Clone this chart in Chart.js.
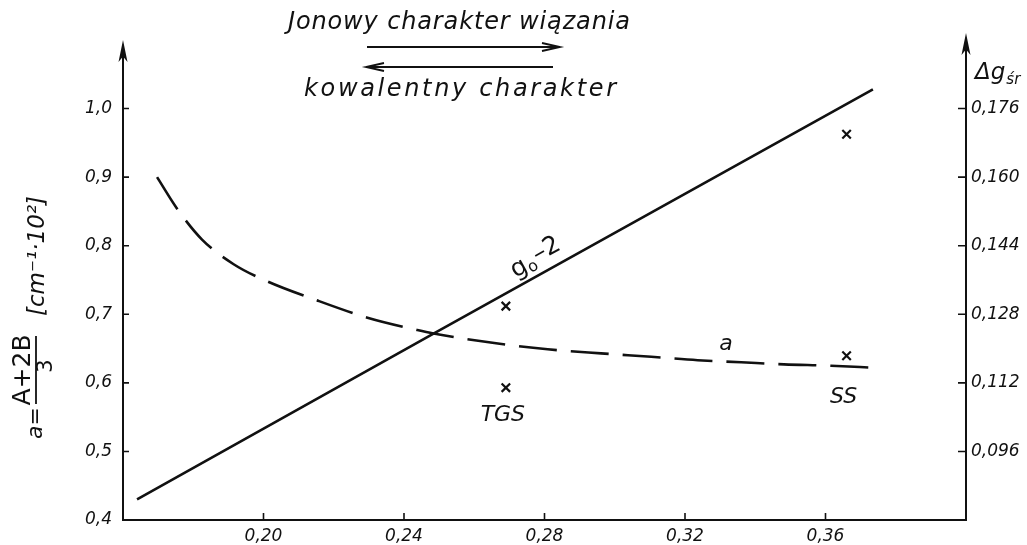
<!DOCTYPE html>
<html>
<head>
<meta charset="utf-8">
<script src="https://cdn.jsdelivr.net/npm/chart.js@4.4.1/dist/chart.umd.min.js"></script>
<style>
    html, body { margin: 0; padding: 0; background: #fff; }
    #wrap { position: relative; width: 1027px; height: 545px; }
</style>
</head>
<body>
<div id="wrap"><canvas id="chart"></canvas></div>
<script>
// g0-2 straight line, read against the right axis (Δg śr)
const g0X = [0.164, 0.2484, 0.3735];
const g0Y = [0.0848, 0.1235, 0.1805];

// a = (A+2B)/3 curve, read against the left axis
const aX = [0.1697, 0.1754, 0.1825, 0.1915, 0.2011, 0.2143, 0.2296, 0.2438, 0.2484,
            0.2657, 0.2809, 0.2961, 0.3104, 0.3236, 0.3360, 0.3482, 0.3616, 0.3739];
const aY = [0.900, 0.854, 0.809, 0.773, 0.748, 0.722, 0.695, 0.677, 0.672,
            0.658, 0.649, 0.643, 0.638, 0.633, 0.630, 0.627, 0.625, 0.622];

// measured samples
const sampleNames = ['TGS', 'SS'];
const sampleX = [0.269, 0.366];
const sampleA = [0.593, 0.6395];
const sampleDg = [0.1299, 0.170];

// tick values
const xTicks = [0.20, 0.24, 0.28, 0.32, 0.36];
const aTicks = [0.4, 0.5, 0.6, 0.7, 0.8, 0.9, 1.0];
const dgTicks = [0.096, 0.112, 0.128, 0.144, 0.160, 0.176];

const INK = '#111';
const FACE = '"DejaVu Sans", sans-serif';

const fmt = (v, d) => v.toFixed(d).replace('.', ',');

function fitText(ctx, text, cx, cy, width) {
    ctx.letterSpacing = '0px';
    const w = ctx.measureText(text).width;
    ctx.letterSpacing = ((width - w) / (text.length - 1)) + 'px';
    ctx.textAlign = 'left';
    ctx.fillText(text, cx - width / 2, cy);
    ctx.letterSpacing = '0px';
}

function rotText(ctx, text, cx, cy, font) {
    ctx.save();
    ctx.translate(cx, cy);
    ctx.rotate(-Math.PI / 2);
    ctx.font = font;
    ctx.textAlign = 'center';
    ctx.textBaseline = 'middle';
    ctx.fillText(text, 0, 0);
    ctx.restore();
}

function arrowHead(ctx, tipX, tipY, dirX, dirY, len, half) {
    const bx = tipX - dirX * len, by = tipY - dirY * len;
    const px = -dirY * half, py = dirX * half;
    ctx.beginPath();
    ctx.moveTo(tipX, tipY);
    ctx.lineTo(bx + px, by + py);
    ctx.lineTo(tipX - dirX * len * 0.75, tipY - dirY * len * 0.75);
    ctx.lineTo(bx - px, by - py);
    ctx.closePath();
    ctx.fill();
}

function openArrow(ctx, x1, x2, y) {
    ctx.beginPath();
    ctx.moveTo(x1, y);
    ctx.lineTo(x2, y);
    const d = Math.sign(x2 - x1);
    ctx.moveTo(x2 - d * 18, y - 4);
    ctx.lineTo(x2, y);
    ctx.lineTo(x2 - d * 18, y + 4);
    ctx.stroke();
}

// axes with inward ticks, arrows and all the lettering
const drafting = {
    id: 'drafting',
    afterDraw(chart) {
        const ctx = chart.ctx;
        const { left, right, top, bottom } = chart.chartArea;
        const sx = chart.scales.x, sy = chart.scales.y, sy2 = chart.scales.y2;

        ctx.save();
        ctx.strokeStyle = INK;
        ctx.fillStyle = INK;
        ctx.lineWidth = 2;
        ctx.lineCap = 'butt';

        // axis lines
        ctx.beginPath();
        ctx.moveTo(left, bottom + 1);
        ctx.lineTo(left, top + 8);
        ctx.moveTo(left - 1, bottom);
        ctx.lineTo(right + 1, bottom);
        ctx.moveTo(right, bottom + 1);
        ctx.lineTo(right, top + 1);
        ctx.stroke();
        arrowHead(ctx, left, top, 0, -1, 22, 4.5);
        arrowHead(ctx, right, top - 7, 0, -1, 22, 4.5);

        // inward tick marks
        ctx.lineWidth = 1.6;
        ctx.beginPath();
        xTicks.forEach(v => {
            const px = sx.getPixelForValue(v);
            ctx.moveTo(px, bottom);
            ctx.lineTo(px, bottom - 7);
        });
        aTicks.slice(1).forEach(v => {
            const py = sy.getPixelForValue(v);
            ctx.moveTo(left, py);
            ctx.lineTo(left + 6, py);
        });
        dgTicks.forEach(v => {
            const py = sy2.getPixelForValue(v);
            ctx.moveTo(right, py);
            ctx.lineTo(right - 8, py);
        });
        ctx.stroke();

        // header: bond character arrows
        ctx.font = 'italic 24px ' + FACE;
        ctx.textBaseline = 'alphabetic';
        fitText(ctx, 'Jonowy charakter wiązania', 459, 29, 342);
        fitText(ctx, 'kowalentny charakter', 460, 96, 312);
        ctx.lineWidth = 1.8;
        openArrow(ctx, 367, 560, 47);
        openArrow(ctx, 553, 366, 67);

        // left axis title
        rotText(ctx, 'a=', 36, 423, 'italic 22px ' + FACE);
        rotText(ctx, 'A+2B', 23, 370, '25px ' + FACE);
        rotText(ctx, '3', 47, 366, '21px ' + FACE);
        rotText(ctx, '[cm⁻¹·10²]', 38, 256, 'italic 23px ' + FACE);
        ctx.lineWidth = 1.8;
        ctx.beginPath();
        ctx.moveTo(36, 336);
        ctx.lineTo(36, 404);
        ctx.stroke();

        // right axis title
        ctx.textAlign = 'left';
        ctx.font = 'italic 23px ' + FACE;
        ctx.fillText('Δg', 975, 79);
        const dw = ctx.measureText('Δg').width;
        ctx.font = 'italic 15px ' + FACE;
        ctx.fillText('śr', 975 + dw + 1, 84);

        // g0-2 label along its line
        const p1x = sx.getPixelForValue(g0X[0]), p1y = sy2.getPixelForValue(g0Y[0]);
        const p2x = sx.getPixelForValue(g0X[g0X.length - 1]), p2y = sy2.getPixelForValue(g0Y[g0Y.length - 1]);
        const ang = Math.atan2(p2y - p1y, p2x - p1x);
        const lx = 520;
        const ly = p1y + (lx - p1x) * (p2y - p1y) / (p2x - p1x);
        ctx.save();
        ctx.translate(lx, ly);
        ctx.rotate(ang);
        ctx.textAlign = 'left';
        ctx.font = '25px ' + FACE;
        ctx.fillText('g', 0, -9);
        let off = ctx.measureText('g').width;
        ctx.font = '16px ' + FACE;
        ctx.fillText('o', off, -6);
        off += ctx.measureText('o').width + 1;
        ctx.font = '25px ' + FACE;
        ctx.fillText('–2', off, -12);
        ctx.restore();

        // curve label and sample names
        ctx.font = 'italic 22px ' + FACE;
        ctx.textAlign = 'center';
        ctx.textBaseline = 'middle';
        ctx.fillText('a', sx.getPixelForValue(0.3317), sy.getPixelForValue(0.656));
        const dropBelow = [28, 42];
        sampleNames.forEach((name, i) => {
            ctx.fillText(name, sx.getPixelForValue(sampleX[i]) - 3,
                sy.getPixelForValue(sampleA[i]) + dropBelow[i]);
        });

        ctx.restore();
    }
};

const tickFont = { family: FACE, size: 17, style: 'italic' };
const noGrid = { display: false, drawTicks: false };

new Chart(document.getElementById('chart'), {
    type: 'line',
    data: {
        datasets: [
            {
                label: 'g0-2',
                data: g0X.map((x, i) => ({ x, y: g0Y[i] })),
                yAxisID: 'y2',
                borderColor: INK,
                borderWidth: 2.6,
                pointRadius: 0,
                tension: 0
            },
            {
                label: 'a',
                data: aX.map((x, i) => ({ x, y: aY[i] })),
                yAxisID: 'y',
                borderColor: INK,
                borderWidth: 2.6,
                borderDash: [38, 14],
                pointRadius: 0,
                cubicInterpolationMode: 'monotone'
            },
            {
                label: 'a (samples)',
                type: 'scatter',
                data: sampleX.map((x, i) => ({ x, y: sampleA[i] })),
                yAxisID: 'y',
                pointStyle: 'crossRot',
                pointRadius: 6,
                borderWidth: 2.2,
                borderColor: INK,
                showLine: false
            },
            {
                label: 'Δg (samples)',
                type: 'scatter',
                data: sampleX.map((x, i) => ({ x, y: sampleDg[i] })),
                yAxisID: 'y2',
                pointStyle: 'crossRot',
                pointRadius: 6,
                borderWidth: 2.2,
                borderColor: INK,
                showLine: false
            }
        ]
    },
    options: {
        responsive: true,
        maintainAspectRatio: false,
        animation: false,
        layout: { padding: { top: 40, left: 0, right: 0, bottom: 0 } },
        plugins: {
            legend: { display: false },
            tooltip: { enabled: false }
        },
        scales: {
            x: {
                type: 'linear',
                min: 0.16,
                max: 0.40,
                grid: noGrid,
                border: { display: false },
                afterBuildTicks: s => { s.ticks = xTicks.map(v => ({ value: v })); },
                afterFit: s => { s.height = 25; },
                ticks: { padding: 6, color: INK, font: tickFont, callback: v => fmt(v, 2) }
            },
            y: {
                position: 'left',
                min: 0.4,
                max: 1.1,
                grid: noGrid,
                border: { display: false },
                afterBuildTicks: s => { s.ticks = aTicks.map(v => ({ value: v })); },
                afterFit: s => { s.width = 123; },
                ticks: { padding: 11, color: INK, font: tickFont, callback: v => fmt(v, 1) }
            },
            y2: {
                position: 'right',
                min: 0.08,
                max: 0.192,
                grid: noGrid,
                border: { display: false },
                afterBuildTicks: s => { s.ticks = dgTicks.map(v => ({ value: v })); },
                afterFit: s => { s.width = 61; },
                ticks: { padding: 5, color: INK, font: tickFont, callback: v => fmt(v, 3) }
            }
        }
    },
    plugins: [drafting]
});
</script>
</body>
</html>
